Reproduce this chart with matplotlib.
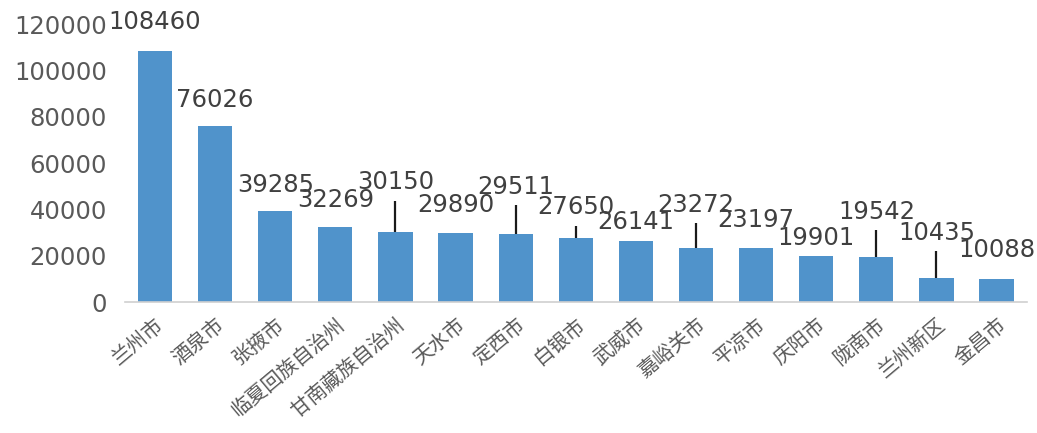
import matplotlib
matplotlib.use("Agg")
import matplotlib.pyplot as plt

# Data
cities = ["兰州市", "酒泉市", "张掖市", "临夏回族自治州", "甘南藏族自治州", "天水市",
          "定西市", "白银市", "武威市", "嘉峪关市", "平凉市", "庆阳市", "陇南市",
          "兰州新区", "金昌市"]
values = [108460, 76026, 39285, 32269, 30150, 29890, 29511, 27650, 26141,
          23272, 23197, 19901, 19542, 10435, 10088]
y_ticks = [0, 20000, 40000, 60000, 80000, 100000, 120000]

# Data-label placement (height of label centre, in axis units) and whether a leader line is drawn
label_y = [121000, 87300, 50500, 44000, 51800, 41900, 49700, 41000, 34600,
           41900, 35400, 27700, 38900, 29800, 22500]
leader = [False, False, False, False, True, False, True, True, False,
          True, False, False, True, True, False]

fig = plt.figure(figsize=(10.37, 4.33), dpi=100)
ax = fig.add_axes([0.1205, 0.3025, 0.8695, 0.642])

x = list(range(len(cities)))
ax.bar(x, values, width=0.57, color="#5093cb", zorder=2)

ax.set_xlim(-0.5, len(cities) - 0.5)
ax.set_ylim(0, 120000)
ax.set_yticks(y_ticks)
ax.set_yticklabels([str(v) for v in y_ticks], fontsize=17.5, color="#595959",
                   family="DejaVu Sans")
ax.tick_params(axis="y", length=0, pad=13)
ax.tick_params(axis="x", length=0, pad=9)

ax.set_xticks(x)
ax.set_xticklabels(cities, rotation=40, ha="right", rotation_mode="anchor",
                   fontsize=14.5, color="#595959",
                   family=["Noto Sans CJK SC", "DejaVu Sans"])

for s in ["left", "right", "top"]:
    ax.spines[s].set_visible(False)
ax.spines["bottom"].set_color("#d0d0d0")
ax.spines["bottom"].set_linewidth(1.2)

# Value labels, with leader lines for labels lifted off their bars
units_per_px = 20000 / 46.3
for xi, v, ly, ld in zip(x, values, label_y, leader):
    ax.text(xi, ly, str(v), ha="center", va="center", fontsize=17.5,
            color="#404040", family="DejaVu Sans", zorder=4)
    if ld:
        line_top = ly - 18.5 * units_per_px
        ax.plot([xi, xi], [v, line_top], color="#1a1a1a", lw=1.6, zorder=3,
                solid_capstyle="butt")

fig.savefig("out.png", dpi=100)
